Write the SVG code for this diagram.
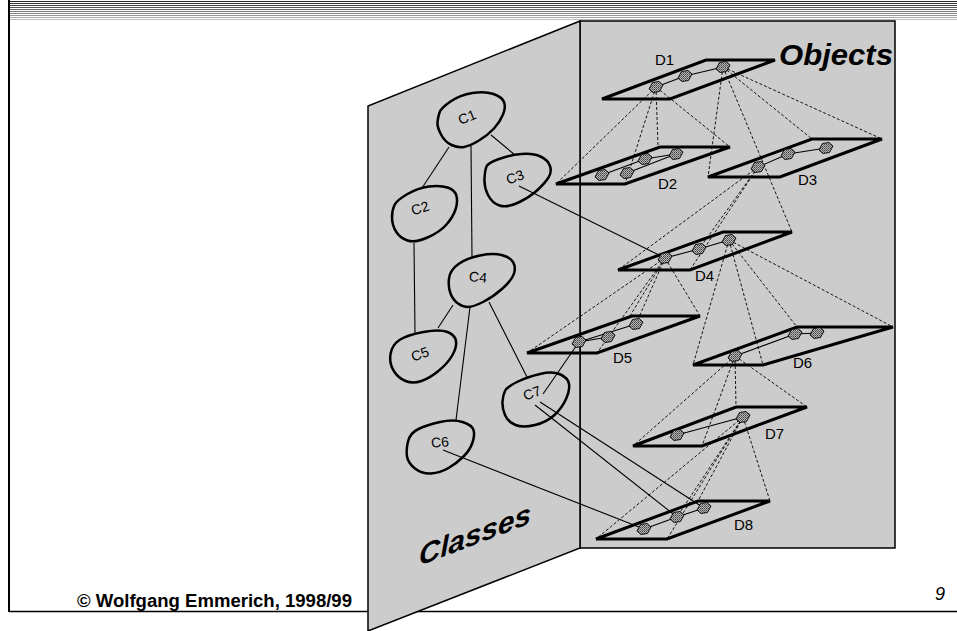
<svg xmlns="http://www.w3.org/2000/svg" width="957" height="631" viewBox="0 0 957 631">
<defs>
<pattern id="dots" width="2" height="2" patternUnits="userSpaceOnUse">
<rect width="2" height="2" fill="#b5b5b5"/>
<rect width="1" height="1" fill="#404040"/>
<rect x="1" y="1" width="1" height="1" fill="#6a6a6a"/>
</pattern>
<polygon id="obj" points="-7,2 -3.5,-4.5 3,-5.5 7,-2 3.5,4.5 -3,5.5"/>
<style>
.panel{fill:#cccccc;stroke:#000;stroke-width:1.5}
.blob{fill:#cccccc;stroke:#000;stroke-width:2.5;stroke-linejoin:round}
.plane{fill:none;stroke:#000;stroke-width:3;stroke-linejoin:miter}
.dash line{stroke:#000;stroke-width:0.9;stroke-dasharray:3 2}
.solid line{stroke:#000;stroke-width:1.1}
.o{fill:url(#dots);stroke:#000;stroke-width:0.9}
.cl{font-family:"Liberation Sans",Arial,sans-serif;font-size:14px;text-anchor:middle;fill:#000}
.dl{font-family:"Liberation Sans",Arial,sans-serif;font-size:15px;fill:#000}
.big{font-family:"Liberation Sans",Arial,sans-serif;font-weight:bold;font-style:italic;fill:#000}
</style>
</defs>
<rect width="957" height="631" fill="#fff"/>
<g id="header">
<line x1="9" y1="1.5" x2="957" y2="1.5" stroke="#222" stroke-width="1"/>
<line x1="9" y1="3.5" x2="957" y2="3.5" stroke="#333" stroke-width="1"/>
<line x1="9" y1="5.5" x2="957" y2="5.5" stroke="#444" stroke-width="1"/>
<line x1="9" y1="7.5" x2="957" y2="7.5" stroke="#555" stroke-width="1"/>
<line x1="9" y1="9.5" x2="957" y2="9.5" stroke="#666" stroke-width="1"/>
<line x1="9" y1="11.5" x2="957" y2="11.5" stroke="#777" stroke-width="1"/>
<line x1="9" y1="13.5" x2="957" y2="13.5" stroke="#888" stroke-width="1"/>
<line x1="9" y1="15.5" x2="957" y2="15.5" stroke="#999" stroke-width="1"/>
<line x1="9" y1="17.5" x2="957" y2="17.5" stroke="#aaa" stroke-width="1"/>
<line x1="9" y1="19.5" x2="957" y2="19.5" stroke="#bbb" stroke-width="1"/>
</g>
<g id="frame">
<line x1="9" y1="0" x2="9" y2="612" stroke="#000" stroke-width="2"/>
<line x1="9" y1="611.5" x2="957" y2="611.5" stroke="#000" stroke-width="1.5"/>
</g>
<g id="objects-panel"><rect class="panel" x="580" y="21" width="315" height="527"/></g>
<g id="classes-panel"><polygon class="panel" points="580,21 368,106 368,631 580,548"/></g>
<g id="dashed-connectors" class="dash">
<line x1="656" y1="87" x2="556" y2="184"/>
<line x1="656" y1="87" x2="658" y2="147"/>
<line x1="656" y1="87" x2="730" y2="147"/>
<line x1="656" y1="87" x2="625" y2="184"/>
<line x1="723" y1="67" x2="708" y2="177"/>
<line x1="723" y1="67" x2="812" y2="139"/>
<line x1="723" y1="67" x2="882" y2="139"/>
<line x1="723" y1="67" x2="792" y2="232"/>
<line x1="758" y1="167" x2="618" y2="270"/>
<line x1="758" y1="167" x2="699" y2="249"/>
<line x1="758" y1="167" x2="690" y2="270"/>
<line x1="665" y1="258" x2="527" y2="353"/>
<line x1="665" y1="258" x2="636" y2="324"/>
<line x1="665" y1="258" x2="630" y2="316"/>
<line x1="665" y1="258" x2="700" y2="316"/>
<line x1="665" y1="258" x2="597" y2="353"/>
<line x1="729" y1="240" x2="693" y2="365"/>
<line x1="729" y1="240" x2="763" y2="365"/>
<line x1="729" y1="240" x2="797" y2="327"/>
<line x1="729" y1="240" x2="893" y2="327"/>
<line x1="735" y1="356" x2="633" y2="446"/>
<line x1="735" y1="356" x2="702" y2="446"/>
<line x1="735" y1="356" x2="736" y2="407"/>
<line x1="735" y1="356" x2="807" y2="407"/>
<line x1="743" y1="417" x2="596" y2="539"/>
<line x1="743" y1="417" x2="667" y2="539"/>
<line x1="743" y1="417" x2="698" y2="501"/>
<line x1="743" y1="417" x2="677" y2="517"/>
<line x1="743" y1="417" x2="770" y2="501"/>
</g>
<g id="D1"><polygon class="plane" points="602,99 670,99 775,60 706,60"/><text class="dl" x="655" y="65">D1</text></g>
<g id="D2"><polygon class="plane" points="556,184 625,184 730,147 660,147"/><text class="dl" x="658" y="189">D2</text></g>
<g id="D3"><polygon class="plane" points="708,177 780,177 882,139 812,139"/><text class="dl" x="798" y="185">D3</text></g>
<g id="D4"><polygon class="plane" points="618,270 690,270 792,232 723,232"/><text class="dl" x="695" y="281">D4</text></g>
<g id="D5"><polygon class="plane" points="527,353 597,353 700,316 632,316"/><text class="dl" x="613" y="363">D5</text></g>
<g id="D6"><polygon class="plane" points="693,365 763,365 893,327 797,327"/><text class="dl" x="793" y="368">D6</text></g>
<g id="D7"><polygon class="plane" points="633,446 702,446 807,407 736,407"/><text class="dl" x="765" y="439">D7</text></g>
<g id="D8"><polygon class="plane" points="596,539 667,539 770,501 698,501"/><text class="dl" x="734" y="530">D8</text></g>
<g id="C1"><path class="blob" d="M439.5,112.5 Q441,108 450.5,101.5 Q460,95 472.5,93 Q485,91 493.5,94 Q502,97 504,102 Q506,107 503,114.5 Q500,122 494,128.5 Q488,135 479,140.5 Q470,146 464,147 Q458,148 451.5,145 Q445,142 441,134.5 Q437,127 437.5,122 Q438,117 439.5,112.5 Z"/><text class="cl" transform="translate(467,117) rotate(-22)" y="5">C1</text></g>
<g id="C2"><path class="blob" d="M394.5,205 Q397,200 407.5,194 Q418,188 429,186.5 Q440,185 447.5,187.5 Q455,190 456.5,196 Q458,202 455.5,209.5 Q453,217 446.5,224.5 Q440,232 427.5,237.5 Q415,243 407.5,240.5 Q400,238 396,231.5 Q392,225 392,217.5 Q392,210 394.5,205 Z"/><text class="cl" transform="translate(420,208) rotate(-18)" y="5">C2</text></g>
<g id="C3"><path class="blob" d="M486.5,166.5 Q488,163 499,159 Q510,155 521.5,154 Q533,153 540.5,156.5 Q548,160 550,166 Q552,172 548.5,177.5 Q545,183 537.5,190 Q530,197 518.5,202.5 Q507,208 499.5,205.5 Q492,203 488,195 Q484,187 484.5,178.5 Q485,170 486.5,166.5 Z"/><text class="cl" transform="translate(515,177) rotate(-20)" y="5">C3</text></g>
<g id="C4"><path class="blob" d="M449,278.5 Q450,270 458.5,264 Q467,258 480,255.5 Q493,253 501.5,255 Q510,257 513,262 Q516,267 514,273.5 Q512,280 502.5,288.5 Q493,297 483,302 Q473,307 468,307 Q463,307 458,303.5 Q453,300 450.5,293.5 Q448,287 449,278.5 Z"/><text class="cl" transform="translate(478,277) rotate(6)" y="5">C4</text></g>
<g id="C5"><path class="blob" d="M390.5,354 Q392,345 399.5,340 Q407,335 423.5,332 Q440,329 447.5,332 Q455,335 456,341 Q457,347 452.5,355 Q448,363 439,370.5 Q430,378 421.5,381 Q413,384 405.5,381 Q398,378 393.5,370.5 Q389,363 390.5,354 Z"/><text class="cl" transform="translate(420,354) rotate(-20)" y="5">C5</text></g>
<g id="C6"><path class="blob" d="M408,441.5 Q410,433 418.5,429 Q427,425 440,422 Q453,419 462.5,422 Q472,425 473.5,430 Q475,435 472.5,442.5 Q470,450 463.5,456.5 Q457,463 448.5,468 Q440,473 431,473.5 Q422,474 415,468.5 Q408,463 407,456.5 Q406,450 408,441.5 Z"/><text class="cl" transform="translate(440,442) rotate(-5)" y="5">C6</text></g>
<g id="C7"><path class="blob" d="M505,391 Q507,387 517,382 Q527,377 540,374 Q553,371 560.5,374.5 Q568,378 569,384 Q570,390 566,399 Q562,408 554.5,415 Q547,422 535,425 Q523,428 515.5,425 Q508,422 505,415 Q502,408 502.5,401.5 Q503,395 505,391 Z"/><text class="cl" transform="translate(532,393) rotate(-20)" y="5">C7</text></g>
<g id="solid-connectors" class="solid">
<line x1="449" y1="147" x2="422" y2="188"/>
<line x1="491" y1="135" x2="515" y2="155"/>
<line x1="471" y1="146" x2="472" y2="257"/>
<line x1="414" y1="243" x2="415" y2="333"/>
<line x1="453" y1="305" x2="438" y2="328"/>
<line x1="470" y1="307" x2="456" y2="420"/>
<line x1="489" y1="302" x2="527" y2="377"/>
<line x1="519" y1="186" x2="665" y2="258"/>
<line x1="543" y1="394" x2="579" y2="342"/>
<line x1="540" y1="402" x2="704" y2="508"/>
<line x1="535" y1="405" x2="677" y2="517"/>
<line x1="443" y1="450" x2="644" y2="529"/>
<line x1="656" y1="87" x2="685" y2="76"/>
<line x1="685" y1="76" x2="723" y2="67"/>
<line x1="602" y1="175" x2="645" y2="159"/>
<line x1="645" y1="159" x2="676" y2="154"/>
<line x1="627" y1="173" x2="676" y2="154"/>
<line x1="758" y1="167" x2="788" y2="154"/>
<line x1="788" y1="154" x2="826" y2="148"/>
<line x1="665" y1="258" x2="699" y2="249"/>
<line x1="699" y1="249" x2="729" y2="240"/>
<line x1="579" y1="342" x2="608" y2="337"/>
<line x1="579" y1="342" x2="636" y2="324"/>
<line x1="735" y1="356" x2="795" y2="334"/>
<line x1="795" y1="334" x2="817" y2="333"/>
<line x1="677" y1="435" x2="743" y2="417"/>
<line x1="644" y1="529" x2="677" y2="517"/>
<line x1="677" y1="517" x2="704" y2="508"/>
</g>
<g id="object-instances">
<use href="#obj" class="o" x="656" y="87"/><use href="#obj" class="o" x="685" y="76"/><use href="#obj" class="o" x="723" y="67"/>
<use href="#obj" class="o" x="602" y="175"/><use href="#obj" class="o" x="627" y="173"/><use href="#obj" class="o" x="645" y="159"/><use href="#obj" class="o" x="676" y="154"/>
<use href="#obj" class="o" x="758" y="167"/><use href="#obj" class="o" x="788" y="154"/><use href="#obj" class="o" x="826" y="148"/>
<use href="#obj" class="o" x="665" y="258"/><use href="#obj" class="o" x="699" y="249"/><use href="#obj" class="o" x="729" y="240"/>
<use href="#obj" class="o" x="579" y="342"/><use href="#obj" class="o" x="608" y="337"/><use href="#obj" class="o" x="636" y="324"/>
<use href="#obj" class="o" x="735" y="356"/><use href="#obj" class="o" x="795" y="334"/><use href="#obj" class="o" x="817" y="333"/>
<use href="#obj" class="o" x="677" y="435"/><use href="#obj" class="o" x="743" y="417"/>
<use href="#obj" class="o" x="644" y="529"/><use href="#obj" class="o" x="677" y="517"/><use href="#obj" class="o" x="704" y="508"/>
</g>
<g id="labels">
<text class="big" x="779" y="65" font-size="29" textLength="114" lengthAdjust="spacingAndGlyphs">Objects</text>
<text class="big" transform="translate(419,566) skewY(-21)" font-size="29" textLength="112" lengthAdjust="spacingAndGlyphs">Classes</text>
<text x="77" y="607" font-family="'Liberation Sans',Arial,sans-serif" font-weight="bold" font-size="18" textLength="275" lengthAdjust="spacingAndGlyphs">© Wolfgang Emmerich, 1998/99</text>
<text x="935" y="600" font-family="'Liberation Sans',Arial,sans-serif" font-style="italic" font-size="18">9</text>
</g>
</svg>
